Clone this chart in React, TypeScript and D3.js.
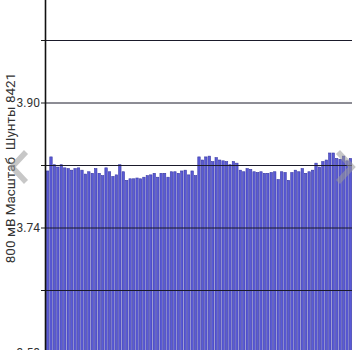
import React from "react";
import * as d3 from "d3";

const values: number[] = [
  3.813, 3.831, 3.821, 3.818, 3.821, 3.817, 3.816, 3.814, 3.816, 3.817,
  3.814, 3.809, 3.812, 3.81, 3.816, 3.81, 3.807, 3.817, 3.812, 3.806,
  3.808, 3.821, 3.812, 3.801, 3.803, 3.803, 3.804,
  3.803, 3.805, 3.807, 3.808, 3.81, 3.805, 3.81, 3.81, 3.805, 3.812,
  3.812, 3.81, 3.813, 3.814, 3.808, 3.813, 3.807,
  3.831, 3.827, 3.831, 3.832, 3.825, 3.83, 3.827, 3.826, 3.825, 3.821,
  3.825, 3.823,
  3.814, 3.812, 3.816, 3.815, 3.812, 3.811, 3.812, 3.81, 3.81, 3.811,
  3.812, 3.802, 3.812, 3.811, 3.801, 3.811, 3.814, 3.812, 3.816, 3.81,
  3.812, 3.814, 3.823, 3.818, 3.825, 3.827, 3.836, 3.836, 3.829, 3.828,
  3.832, 3.826, 3.829,
];
const gridValues: number[] = [3.98, 3.9, 3.82, 3.74, 3.66, 3.58];
const tickLabels: number[] = [3.9, 3.74, 3.58];
const yTitle = "800 мВ Масштаб  Шунты 8421";

export default function App() {
  const W = 360;
  const H = 350;
  const left = 46;
  const right = 352;
  const x = d3
    .scaleBand<number>()
    .domain(values.map((_, i) => i))
    .range([left, right])
    .paddingInner(0.3)
    .paddingOuter(0.1);
  const y = d3.scaleLinear().domain([3.74, 3.9]).range([228, 103]);
  const base = y(3.5);
  return (
    <div style={{ position: "fixed", left: 0, top: 0, width: W, height: H, background: "#fff" }}>
      <svg width={W} height={H} style={{ display: "block" }}>
        <defs>
          <clipPath id="plot">
            <rect x={left} y={0} width={right - left} height={H} />
          </clipPath>
        </defs>
        <g clipPath="url(#plot)">
          {values.map((v, i) => (
            <rect
              key={i}
              x={x(i)}
              y={y(v)}
              width={x.bandwidth()}
              height={base - y(v)}
              fill="#5a5ad6"
              stroke="#3838a4"
              strokeWidth={0.6}
            />
          ))}
        </g>
        {gridValues.map((g) => (
          <g key={g}>
            <line x1={left} x2={right} y1={y(g)} y2={y(g)} stroke="#1a1a2a" strokeWidth={1} />
            <line x1={41} x2={left} y1={y(g)} y2={y(g)} stroke="#1a1a1a" strokeWidth={1} />
          </g>
        ))}
        <line x1={45.5} x2={45.5} y1={0} y2={H} stroke="#111" strokeWidth={1.6} />
        {tickLabels.map((t) => (
          <text
            key={t}
            x={40}
            y={y(t)}
            dy="0.35em"
            textAnchor="end"
            fontFamily="Roboto, sans-serif"
            fontSize={12}
            fill="#333"
          >
            {t.toFixed(2)}
          </text>
        ))}
        <text
          transform={`translate(15,168) rotate(-90)`}
          textAnchor="middle"
          fontFamily="Roboto, sans-serif"
          fontSize={13.5}
          fill="#333"
          style={{ whiteSpace: "pre" }}
        >
          {yTitle}
        </text>
        <path
          d="M26,152 L12,167 L26,182"
          fill="none"
          stroke="#999"
          strokeOpacity={0.55}
          strokeWidth={5.5}
        />
        <path
          d="M338,152 L352,167 L338,182"
          fill="none"
          stroke="#999"
          strokeOpacity={0.55}
          strokeWidth={5.5}
        />
      </svg>
    </div>
  );
}
